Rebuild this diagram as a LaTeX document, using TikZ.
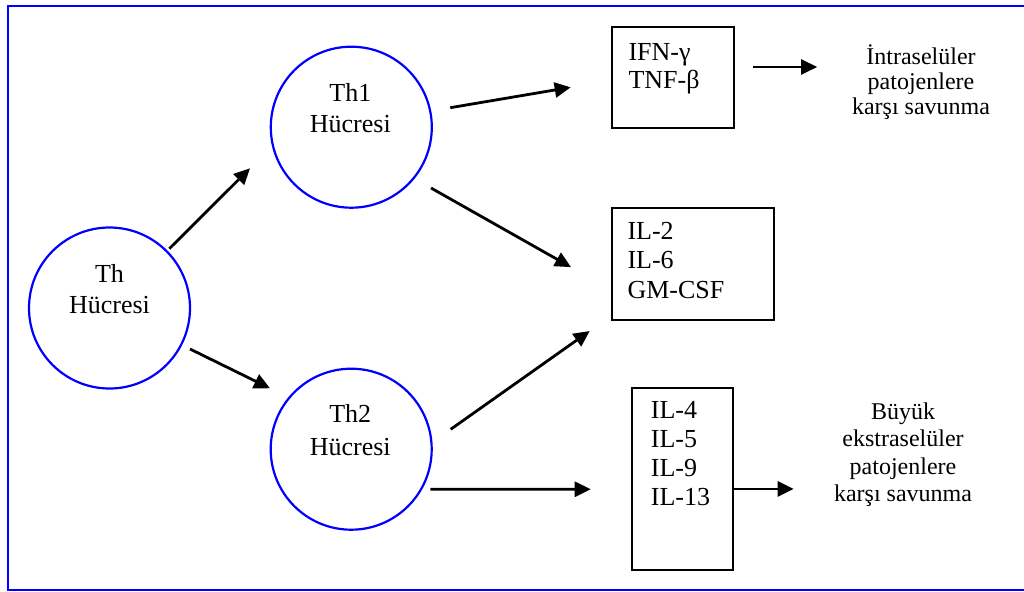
\documentclass[tikz,border=0pt]{standalone}
\usepackage{fontspec}
\setmainfont{Liberation Serif}
\usetikzlibrary{arrows.meta,calc}
\begin{document}
\begin{tikzpicture}[x=1pt,y=-1pt,
  cell/.style={circle,draw=blue,line width=2.2pt,minimum size=161pt,inner sep=0pt},
  cbox/.style={rectangle,draw=black,line width=2pt,inner sep=0pt},
  bigtxt/.style={font=\fontsize{26}{30}\selectfont,inner sep=0pt},
  smalltxt/.style={font=\fontsize{24}{28}\selectfont,inner sep=0pt,anchor=base},
  arr/.style={line width=2.8pt,-{Triangle[length=16pt,width=15pt]}}]
\useasboundingbox (0,0) rectangle (1024,591);
\draw[blue,line width=2pt] (7.7,5.8) rectangle (1034,589.8);

% cells
\node[cell] (th)  at (109.5,308) {};
\node[cell] (th1) at (351.3,127.2) {};
\node[cell] (th2) at (351.2,449.2) {};
\node[bigtxt,anchor=base] (thA)  at ($(th)+(0,-26)$) {Th};
\node[bigtxt,anchor=base] (thB)  at ($(th)+(0,5)$) {Hücresi};
\node[bigtxt,anchor=base] (th1A) at ($(th1)+(-1,-26)$) {Th1};
\node[bigtxt,anchor=base] (th1B) at ($(th1)+(-1,5)$) {Hücresi};
\node[bigtxt,anchor=base] (th2A) at ($(th2)+(-1,-26.5)$) {Th2};
\node[bigtxt,anchor=base] (th2B) at ($(th2)+(-1,5.8)$) {Hücresi};

% boxes
\node[cbox,minimum width=121.4pt,minimum height=101.6pt] (b1) at (673,77.5) {};
\node[cbox,minimum width=161.7pt,minimum height=111.7pt] (b2) at (693.15,264.15) {};
\node[cbox,minimum width=101pt,minimum height=181.7pt] (b3) at (682.8,479.15) {};

\foreach \t [count=\i from 0] in {IFN-γ,TNF-β}
  \node[bigtxt,anchor=base west] (b1l\i) at ($(b1.north west)+(17,35+28.3*\i)$) {\t};
\foreach \t [count=\i from 0] in {IL-2,IL-6,GM-CSF}
  \node[bigtxt,anchor=base west] (b2l\i) at ($(b2.north west)+(16,31.7+29.7*\i)$) {\t};
\foreach \t [count=\i from 0] in {IL-4,IL-5,IL-9,IL-13}
  \node[bigtxt,anchor=base west] (b3l\i) at ($(b3.north west)+(19.4,31+29.1*\i)$) {\t};

% right texts
\foreach \t [count=\i from 0] in {İntraselüler,patojenlere,karşı savunma}
  \node[smalltxt] (t1l\i) at (921,65+24.7*\i) {\t};
\foreach \t [count=\i from 0] in {Büyük,ekstraselüler,patojenlere,karşı savunma}
  \node[smalltxt] (t2l\i) at (903,419.3+27.5*\i) {\t};

% connectors
\draw[arr] ($(th)+(59.8,-59.3)$) -- ($(th1)+(-101.3,41.1)$);
\draw[arr] ($(th)+(80.5,41)$) -- ($(th2)+(-81.2,-60.9)$);
\draw[arr] ($(th1)+(99,-19.5)$) -- ($(b1.west)+(-40.6,9.8)$);
\draw[arr] ($(th1)+(79.7,60.8)$) -- ($(b2.west)+(-40.3,3)$);
\draw[arr] ($(th2)+(99.5,-19.9)$) -- ($(b2.south west)+(-21.6,10)$);
\draw[arr] ($(th2)+(79.1,40.1)$) -- ($(b3.west)+(-40.6,10.1)$);
\draw[arr] ($(b1.east)+(18,-10.5)$) -- ($(t1l0.base west)+(-49,2)$);
\draw[arr] ($(b3.east)+(0,9.8)$) -- ($(b3.east)+(59.4,9.8)$);
\end{tikzpicture}
\end{document}
